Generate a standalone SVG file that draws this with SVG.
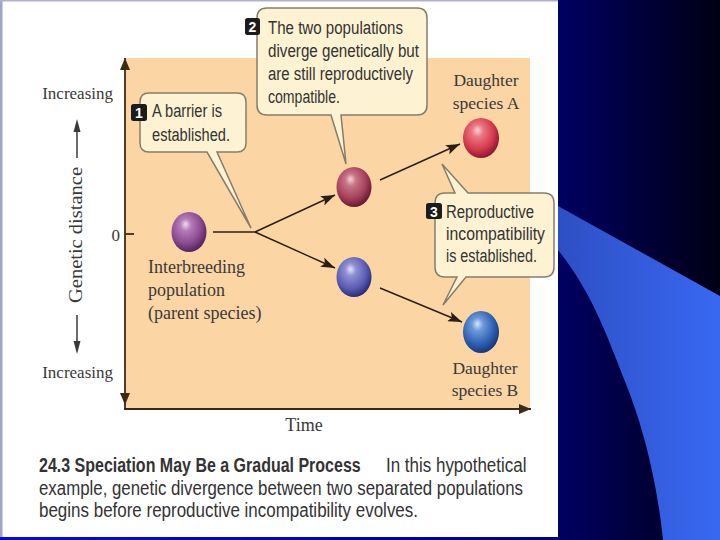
<svg xmlns="http://www.w3.org/2000/svg" width="720" height="540" viewBox="0 0 720 540">
<defs>
  <linearGradient id="bgNavy" x1="558" y1="0" x2="720" y2="0" gradientUnits="userSpaceOnUse">
    <stop offset="0" stop-color="#000062"/>
    <stop offset="1" stop-color="#000014"/>
  </linearGradient>
  <linearGradient id="swooshG" x1="558" y1="0" x2="720" y2="0" gradientUnits="userSpaceOnUse">
    <stop offset="0" stop-color="#2e4fc4"/>
    <stop offset="1" stop-color="#3868f2"/>
  </linearGradient>
  <linearGradient id="bandG" x1="0" y1="0" x2="558" y2="0" gradientUnits="userSpaceOnUse">
    <stop offset="0" stop-color="#0a0ad0"/>
    <stop offset="1" stop-color="#00008a"/>
  </linearGradient>
  <radialGradient id="gParent" cx="0.42" cy="0.38" r="0.62" fx="0.4" fy="0.3">
    <stop offset="0" stop-color="#f0dcf0"/>
    <stop offset="0.25" stop-color="#b47cb8"/>
    <stop offset="0.7" stop-color="#8a4a90"/>
    <stop offset="1" stop-color="#552560"/>
  </radialGradient>
  <radialGradient id="gMidA" cx="0.42" cy="0.38" r="0.62" fx="0.4" fy="0.3">
    <stop offset="0" stop-color="#f6d0d8"/>
    <stop offset="0.25" stop-color="#c87486"/>
    <stop offset="0.7" stop-color="#a4405a"/>
    <stop offset="1" stop-color="#6a1a34"/>
  </radialGradient>
  <radialGradient id="gMidB" cx="0.42" cy="0.38" r="0.62" fx="0.4" fy="0.3">
    <stop offset="0" stop-color="#e4e4fa"/>
    <stop offset="0.25" stop-color="#9090d4"/>
    <stop offset="0.7" stop-color="#5c5cb4"/>
    <stop offset="1" stop-color="#2c2c7c"/>
  </radialGradient>
  <radialGradient id="gA" cx="0.42" cy="0.38" r="0.62" fx="0.4" fy="0.3">
    <stop offset="0" stop-color="#fcd4d8"/>
    <stop offset="0.25" stop-color="#ec7884"/>
    <stop offset="0.7" stop-color="#d43a4e"/>
    <stop offset="1" stop-color="#8e1830"/>
  </radialGradient>
  <radialGradient id="gB" cx="0.42" cy="0.38" r="0.62" fx="0.4" fy="0.3">
    <stop offset="0" stop-color="#d4e4fa"/>
    <stop offset="0.25" stop-color="#6e9ad8"/>
    <stop offset="0.7" stop-color="#2f60b4"/>
    <stop offset="1" stop-color="#163a7c"/>
  </radialGradient>
  <marker id="arr" viewBox="0 0 14 10" refX="14" refY="5" markerWidth="14" markerHeight="10" markerUnits="userSpaceOnUse" orient="auto">
    <path d="M0,0 L14,5 L0,10 L3,5 Z" fill="#2a1e14"/>
  </marker>
  <marker id="axArr" viewBox="0 0 12 10" refX="12" refY="5" markerWidth="12" markerHeight="10" markerUnits="userSpaceOnUse" orient="auto">
    <path d="M0,0 L12,5 L0,10 Z" fill="#3a2a1a"/>
  </marker>
  <style>
    .serif { font-family: "Liberation Serif", "Times New Roman", serif; fill: #3a3a3a; }
    .sans { font-family: "Liberation Sans", Arial, sans-serif; fill: #333333; }
    .call { fill: #fdf2d2; stroke: #857d6c; stroke-width: 1.5; }
    .badge { fill: #1c1c1c; }
    .badgeTxt { font-family: "Liberation Sans", Arial, sans-serif; font-weight: bold; font-size: 14px; fill: #ffffff; text-anchor: middle; }
    .conn { stroke: #2a1e14; stroke-width: 1.4; fill: none; }
    .axis { stroke: #3a2a1a; stroke-width: 1.8; fill: none; }
  </style>
</defs>

<!-- slide background -->
<rect x="0" y="0" width="720" height="540" fill="url(#bgNavy)"/>
<path d="M558,206 L720,296 L720,540 L663,540 C659,500 649,440 624,379 C605,330 590,290 558,250 Z" fill="url(#swooshG)"/>
<rect x="0" y="0" width="558" height="537" fill="#ffffff"/>
<rect x="0" y="537" width="558" height="3" fill="url(#bandG)"/>
<rect x="0" y="0" width="2.5" height="537" fill="#a2a2d2"/>
<rect x="0" y="0" width="558" height="1.5" fill="#b0b0cc"/>

<!-- plot area -->
<rect x="125" y="58" width="405" height="351" fill="#fbd5a4"/>

<g id="axes">
  <line class="axis" x1="125" y1="409" x2="125" y2="58" marker-end="url(#axArr)"/>
  <path d="M120,393 L130,393 L125,405 Z" fill="#3a2a1a"/>
  <line class="axis" x1="124" y1="409" x2="531" y2="409" marker-end="url(#axArr)"/>
  <line class="axis" x1="125" y1="234" x2="134" y2="234"/>
  <text class="serif" x="120" y="241" font-size="17" text-anchor="end">0</text>
  <text class="serif" x="113" y="99" font-size="17" text-anchor="end">Increasing</text>
  <text class="serif" x="113" y="378" font-size="17" text-anchor="end">Increasing</text>
  <text class="serif" transform="translate(82,235) rotate(-90)" font-size="19" text-anchor="middle" textLength="136" lengthAdjust="spacingAndGlyphs">Genetic distance</text>
  <line x1="77" y1="158" x2="77" y2="130" stroke="#3a3a3a" stroke-width="1.5"/>
  <path d="M73.5,132 L80.5,132 L77,119 Z" fill="#3a3a3a"/>
  <line x1="77" y1="315" x2="77" y2="343" stroke="#3a3a3a" stroke-width="1.5"/>
  <path d="M73.5,341 L80.5,341 L77,354 Z" fill="#3a3a3a"/>
  <text class="serif" x="304" y="431" font-size="18" text-anchor="middle">Time</text>
</g>

<g id="connectors">
  <line class="conn" x1="213" y1="232" x2="255" y2="232"/>
  <line class="conn" x1="255" y1="232" x2="335" y2="195" marker-end="url(#arr)"/>
  <line class="conn" x1="255" y1="232" x2="335" y2="268" marker-end="url(#arr)"/>
  <line class="conn" x1="380" y1="180" x2="460" y2="144" marker-end="url(#arr)"/>
  <line class="conn" x1="380" y1="288" x2="462" y2="322" marker-end="url(#arr)"/>
</g>

<g id="parent">
  <ellipse cx="189" cy="232" rx="17.5" ry="20" fill="url(#gParent)"/>
  <text class="serif" x="148" y="273" font-size="18">Interbreeding</text>
  <text class="serif" x="148" y="296" font-size="18">population</text>
  <text class="serif" x="148" y="319" font-size="18">(parent species)</text>
</g>

<g id="popUpper">
  <ellipse cx="354" cy="187" rx="17.5" ry="20" fill="url(#gMidA)"/>
</g>
<g id="popLower">
  <ellipse cx="354" cy="277" rx="17.5" ry="20" fill="url(#gMidB)"/>
</g>

<g id="speciesA">
  <ellipse cx="481" cy="138" rx="18" ry="20" fill="url(#gA)"/>
  <text class="serif" x="486" y="86" font-size="17.5" text-anchor="middle">Daughter</text>
  <text class="serif" x="486" y="109" font-size="17.5" text-anchor="middle">species A</text>
</g>

<g id="speciesB">
  <ellipse cx="481" cy="332" rx="18" ry="21" fill="url(#gB)"/>
  <text class="serif" x="485" y="374" font-size="17.5" text-anchor="middle">Daughter</text>
  <text class="serif" x="485" y="396" font-size="17.5" text-anchor="middle">species B</text>
</g>

<g id="callout1">
  <path class="call" d="M149,93 H237 Q246,93 246,102 V143 Q246,152 237,152 H217 L251,228 L207,152 H149 Q140,152 140,143 V102 Q140,93 149,93 Z"/>
  <rect class="badge" x="131" y="104" width="16" height="17" rx="2.5"/>
  <text class="badgeTxt" x="139" y="118">1</text>
  <text class="sans" x="152" y="117" font-size="18" textLength="70" lengthAdjust="spacingAndGlyphs">A barrier is</text>
  <text class="sans" x="152" y="141" font-size="18" textLength="78" lengthAdjust="spacingAndGlyphs">established.</text>
</g>

<g id="callout2">
  <path class="call" d="M267,8 H417 Q427,8 427,18 V105 Q427,115 417,115 H341 L346,164 L331,115 H267 Q257,115 257,105 V18 Q257,8 267,8 Z"/>
  <rect class="badge" x="245" y="18" width="15" height="17" rx="2.5"/>
  <text class="badgeTxt" x="252.5" y="32">2</text>
  <text class="sans" x="268" y="34" font-size="18" textLength="135" lengthAdjust="spacingAndGlyphs">The two populations</text>
  <text class="sans" x="268" y="57" font-size="18" textLength="151" lengthAdjust="spacingAndGlyphs">diverge genetically but</text>
  <text class="sans" x="268" y="80" font-size="18" textLength="145" lengthAdjust="spacingAndGlyphs">are still reproductively</text>
  <text class="sans" x="268" y="103" font-size="18" textLength="72" lengthAdjust="spacingAndGlyphs">compatible.</text>
</g>

<g id="callout3">
  <path class="call" d="M445,193 H455 L442,164 L468,193 H544 Q554,193 554,203 V267 Q554,277 544,277 H466 L443,305 L457,277 H445 Q435,277 435,267 V203 Q435,193 445,193 Z"/>
  <rect class="badge" x="426" y="203" width="16" height="16" rx="2.5"/>
  <text class="badgeTxt" x="434" y="216.5">3</text>
  <text class="sans" x="446" y="218" font-size="18" textLength="88" lengthAdjust="spacingAndGlyphs">Reproductive</text>
  <text class="sans" x="446" y="240" font-size="18" textLength="99" lengthAdjust="spacingAndGlyphs">incompatibility</text>
  <text class="sans" x="446" y="262" font-size="18" textLength="91" lengthAdjust="spacingAndGlyphs">is established.</text>
</g>

<g id="caption">
  <text class="sans" transform="translate(39,472) scale(0.82,1)" font-size="19.5" font-weight="bold">24.3 Speciation May Be a Gradual Process</text>
  <text class="sans" transform="translate(386,472) scale(0.87,1)" font-size="19.5">In this hypothetical</text>
  <text class="sans" x="39" y="495" font-size="19.5" textLength="484" lengthAdjust="spacingAndGlyphs">example, genetic divergence between two separated populations</text>
  <text class="sans" x="39" y="517" font-size="19.5" textLength="379" lengthAdjust="spacingAndGlyphs">begins before reproductive incompatibility evolves.</text>
</g>
</svg>
